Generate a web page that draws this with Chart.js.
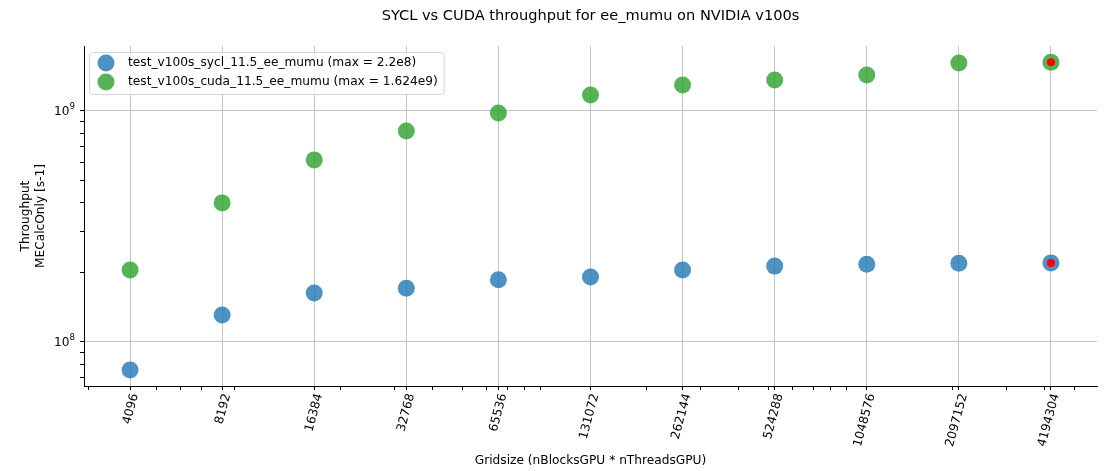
<!DOCTYPE html>
<html>
<head>
<meta charset="utf-8">
<script src="https://cdn.jsdelivr.net/npm/chart.js@4/dist/chart.umd.min.js"></script>
<style>
  html, body { margin: 0; padding: 0; background: #fff; }
  #wrap { width: 1106px; height: 471px; }
</style>
</head>
<body>
<div id="wrap"><canvas id="throughputChart" width="1106" height="471"></canvas></div>
<script>
// grid sizes (nBlocksGPU * nThreadsGPU)
const gridSizes = [4096, 8192, 16384, 32768, 65536, 131072, 262144, 524288, 1048576, 2097152, 4194304];
const syclThroughput = [7.57e7, 1.31e8, 1.63e8, 1.71e8, 1.86e8, 1.91e8, 2.05e8, 2.13e8, 2.17e8, 2.19e8, 2.2e8];
const cudaThroughput = [2.05e8, 4.0e8, 6.14e8, 8.19e8, 9.8e8, 1.173e9, 1.296e9, 1.362e9, 1.432e9, 1.614e9, 1.624e9];
const maxGridSizes = [4194304, 4194304];
const maxThroughputs = [2.2e8, 1.624e9];
const seriesLabels = ["test_v100s_sycl_11.5_ee_mumu (max = 2.2e8)", "test_v100s_cuda_11.5_ee_mumu (max = 1.624e9)"];
const yMajorTicks = [1e8, 1e9];
const yMajorExponents = ["8", "9"];
const minorMultipliers = [2, 3, 4, 5, 6, 7, 8, 9];

const FONT = "'DejaVu Sans', sans-serif";
const blue = "rgba(31, 119, 180, 0.8)";
const green = "rgba(44, 160, 44, 0.8)";

function minorTicks(min, max) {
  const out = [];
  for (let e = Math.floor(Math.log10(min)); e <= Math.ceil(Math.log10(max)); e++) {
    minorMultipliers.forEach(function (m) {
      const v = m * Math.pow(10, e);
      if (v >= min && v <= max) out.push(v);
    });
  }
  return out;
}

const xMin = 4096 / Math.SQRT2;
const xMax = 4194304 * Math.SQRT2;
const yMin = 6.45e7;
const yMax = 1.91e9;

const titleAndLegend = {
  id: "titleAndLegend",
  afterDraw(chart) {
    const ctx = chart.ctx;
    const area = chart.chartArea;
    ctx.save();
    ctx.fillStyle = "#000";
    ctx.font = "14.6px " + FONT;
    ctx.textAlign = "center";
    ctx.textBaseline = "middle";
    ctx.fillText("SYCL vs CUDA throughput for ee_mumu on NVIDIA v100s", (area.left + area.right) / 2, 16);

    // y major labels as 10 with a raised exponent
    const yScale = chart.scales.y;
    yMajorTicks.forEach(function (v, i) {
      const py = yScale.getPixelForValue(v);
      ctx.font = "8.6px " + FONT;
      const ew = ctx.measureText(yMajorExponents[i]).width;
      ctx.textAlign = "right";
      ctx.fillText(yMajorExponents[i], area.left - 9, py - 4);
      ctx.font = "12.2px " + FONT;
      ctx.fillText("10", area.left - 9 - ew, py + 1);
    });

    // legend box in upper left of the axes
    ctx.font = "12.2px " + FONT;
    const colors = [blue, green];
    let w = 0;
    seriesLabels.forEach(function (t) { w = Math.max(w, ctx.measureText(t).width); });
    const bx = area.left + 5, by = area.top + 6;
    const bw = 128 - bx + w + 6, bh = 42;
    ctx.beginPath();
    ctx.roundRect(bx + 0.5, by + 0.5, bw, bh, 3);
    ctx.fillStyle = "rgba(255,255,255,0.8)";
    ctx.fill();
    ctx.strokeStyle = "#d6d6d6";
    ctx.lineWidth = 1;
    ctx.stroke();
    seriesLabels.forEach(function (t, i) {
      const cy = by + 11 + i * 19;
      ctx.beginPath();
      ctx.arc(bx + 17, cy, 8.5, 0, Math.PI * 2);
      ctx.fillStyle = colors[i];
      ctx.fill();
      ctx.fillStyle = "#000";
      ctx.textAlign = "left";
      ctx.fillText(t, 128, cy);
    });
    ctx.restore();
  }
};

new Chart(document.getElementById("throughputChart"), {
  type: "scatter",
  data: {
    datasets: [
      {
        label: seriesLabels[0],
        data: gridSizes.map(function (g, i) { return { x: g, y: syclThroughput[i] }; }),
        backgroundColor: blue,
        borderWidth: 0,
        pointRadius: 8.5,
        order: 2,
      },
      {
        label: seriesLabels[1],
        data: gridSizes.map(function (g, i) { return { x: g, y: cudaThroughput[i] }; }),
        backgroundColor: green,
        borderWidth: 0,
        pointRadius: 8.5,
        order: 1,
      },
      {
        label: "max",
        data: maxGridSizes.map(function (g, i) { return { x: g, y: maxThroughputs[i] }; }),
        backgroundColor: "#ff0000",
        borderWidth: 0,
        pointRadius: 4,
        order: 0,
      },
    ],
  },
  options: {
    responsive: false,
    animation: false,
    layout: { padding: { left: 19, right: 9, top: 46, bottom: 0 } },
    scales: {
      x: {
        type: "logarithmic",
        min: xMin,
        max: xMax,
        afterBuildTicks: function (scale) {
          const vals = gridSizes.concat(minorTicks(xMin, xMax).filter(function (v) {
            return gridSizes.every(function (g) { return Math.abs(Math.log2(v / g)) > 0.05; });
          }));
          scale.ticks = vals.sort(function (a, b) { return a - b; }).map(function (v) { return { value: v }; });
        },
        afterFit: function (scale) { scale.height = 85; },
        ticks: {
          autoSkip: false,
          minRotation: 75,
          maxRotation: 75,
          labelOffset: 5,
          padding: 2,
          color: "#000",
          font: { family: FONT, size: 12.2 },
          callback: function (value) { return gridSizes.includes(value) ? String(value) : ""; },
        },
        grid: {
          color: function (c) { return c.tick && gridSizes.includes(c.tick.value) ? "#c4c4c4" : "rgba(0,0,0,0)"; },
          tickColor: "#000",
          tickLength: 4,
        },
        border: { color: "#000", width: 1 },
        title: {
          display: true,
          text: "Gridsize (nBlocksGPU * nThreadsGPU)",
          color: "#000",
          font: { family: FONT, size: 12.2 },
          padding: { top: 0, bottom: 3 },
        },
      },
      y: {
        type: "logarithmic",
        min: yMin,
        max: yMax,
        afterBuildTicks: function (scale) {
          const vals = yMajorTicks.concat(minorTicks(yMin, yMax));
          scale.ticks = vals.sort(function (a, b) { return a - b; }).map(function (v) { return { value: v }; });
        },
        afterFit: function (scale) { scale.width = 65; },
        ticks: {
          autoSkip: false,
          padding: 4,
          color: "#000",
          font: { family: FONT, size: 12.2 },
          callback: function () { return ""; },
        },
        grid: {
          color: function (c) { return c.tick && yMajorTicks.includes(c.tick.value) ? "#c4c4c4" : "rgba(0,0,0,0)"; },
          tickColor: "#000",
          tickLength: 4,
        },
        border: { color: "#000", width: 1 },
        title: {
          display: true,
          text: ["Throughput", "MECalcOnly [s-1]"],
          color: "#000",
          font: { family: FONT, size: 12.2 },
          padding: { top: 0, bottom: 0 },
        },
      },
    },
    plugins: {
      legend: { display: false },
      title: { display: false },
      tooltip: { enabled: false },
    },
  },
  plugins: [titleAndLegend],
});
</script>
</body>
</html>
